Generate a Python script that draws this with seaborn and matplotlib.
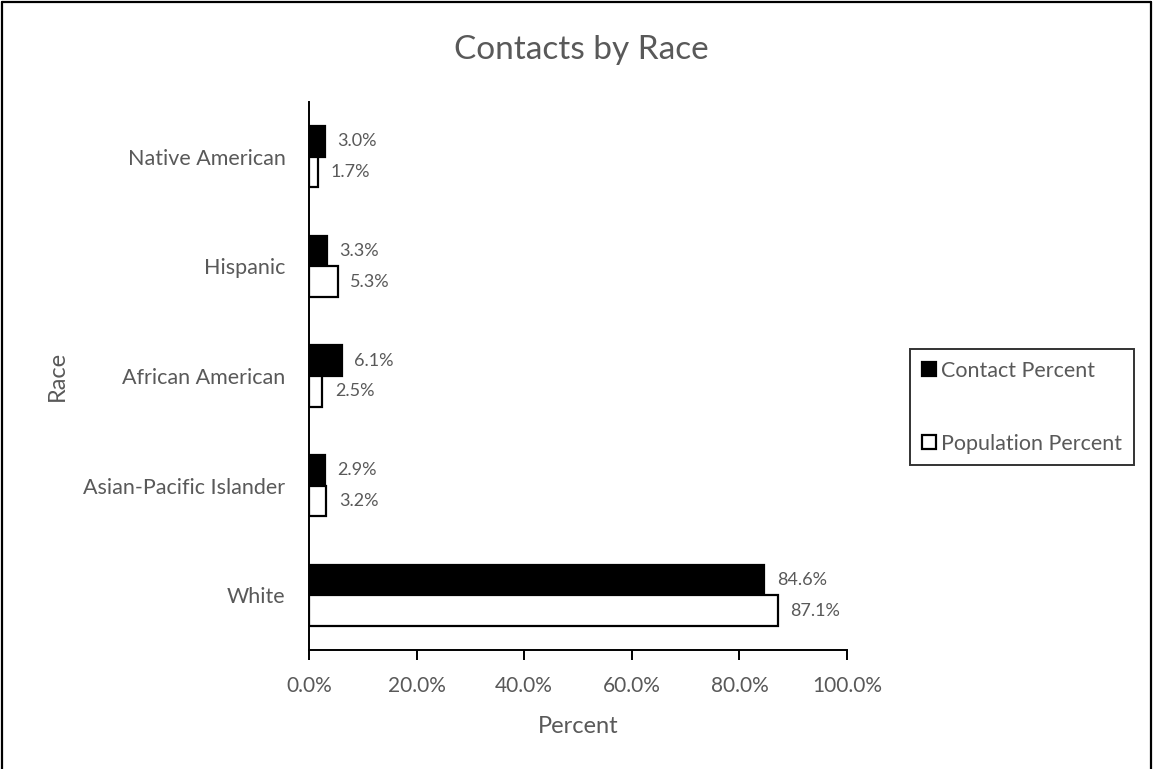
import matplotlib
matplotlib.use("Agg")
import matplotlib.pyplot as plt
import seaborn as sns
import pandas as pd
from matplotlib.lines import Line2D
from matplotlib.ticker import FuncFormatter

races = ["Native American", "Hispanic", "African American", "Asian-Pacific Islander", "White"]
contact_pct = [3.0, 3.3, 6.1, 2.9, 84.6]
population_pct = [1.7, 5.3, 2.5, 3.2, 87.1]
series = ["Contact Percent", "Population Percent"]

GREY = "#595959"

df = pd.DataFrame({
    "Race": races * 2,
    "Percent": contact_pct + population_pct,
    "Series": [series[0]] * len(races) + [series[1]] * len(races),
})

sns.set_style("white")
plt.rcParams["font.family"] = ["Lato", "DejaVu Sans"]

fig = plt.figure(figsize=(11.53, 7.69), dpi=100)
ax = fig.add_axes([309 / 1153, 1 - 650 / 769, (847 - 309) / 1153, 548 / 769])

sns.barplot(data=df, y="Race", x="Percent", hue="Series", order=races, hue_order=series,
            palette=["black", "white"], edgecolor="black", linewidth=1.6, width=0.56,
            orient="h", ax=ax)

for cont in ax.containers:
    ax.bar_label(cont, fmt="%.1f%%", padding=9, fontsize=13, color=GREY)

ax.set_xlim(0, 100)
ax.set_xticks([0, 20, 40, 60, 80, 100])
ax.xaxis.set_major_formatter(FuncFormatter(lambda v, p: f"{v:.1f}%"))
ax.tick_params(axis="x", direction="out", length=7, width=1.4, color="black",
               labelsize=15, labelcolor=GREY, pad=12, bottom=True)
ax.tick_params(axis="y", length=0, labelsize=15.5, labelcolor=GREY, pad=17)

for side in ["top", "right"]:
    ax.spines[side].set_visible(False)
for side in ["left", "bottom"]:
    ax.spines[side].set_color("black")
    ax.spines[side].set_linewidth(1.4)

ax.set_xlabel("Percent", fontsize=17, color=GREY, labelpad=14)
ax.set_ylabel("Race", fontsize=17, color=GREY)
ax.yaxis.set_label_coords(-0.448, 0.5)

fig.text(0.504, 1 - 50 / 769, "Contacts by Race", ha="center", va="center",
         fontsize=24, color=GREY)

ax.legend(title=None, loc="center left", bbox_to_anchor=(1.117, 0.443), fontsize=15.5,
          frameon=True, fancybox=False, edgecolor="black", handlelength=0.65,
          handleheight=0.65, handletextpad=0.25, labelspacing=2.45, borderpad=0.55,
          borderaxespad=0, labelcolor=GREY)
ax.get_legend().get_frame().set_linewidth(1.4)

# border around the chart area (left, top, right)
for xs, ys in [([0.002, 0.002], [0, 0.997]), ([0.002, 0.998], [0.997, 0.997]), ([0.998, 0.998], [0, 0.997])]:
    fig.add_artist(Line2D(xs, ys, color="black", lw=1.6, transform=fig.transFigure))

fig.savefig("out.png", dpi=100)
